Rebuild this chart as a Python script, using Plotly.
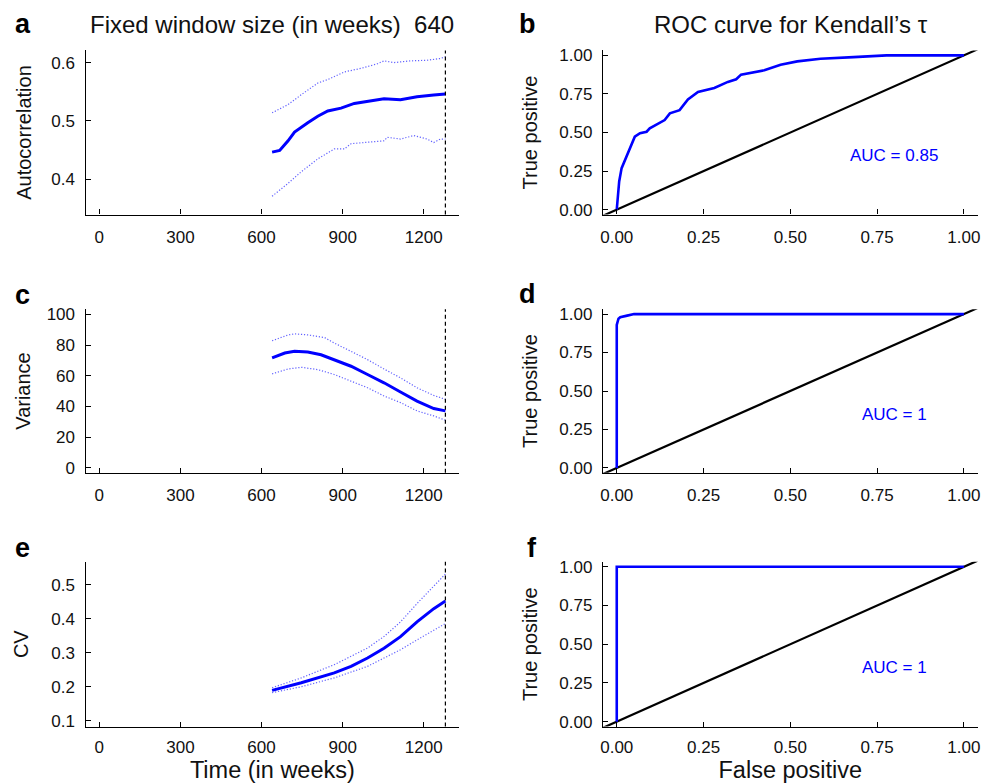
import plotly.graph_objects as go

# ---------------- data ----------------
# Panel a: autocorrelation
ac_mean_t = [639, 667, 698, 722, 771, 808, 845, 894, 943, 992, 1053, 1114, 1175, 1237, 1280]
ac_mean = [0.4466, 0.4494, 0.466, 0.481, 0.497, 0.508, 0.517, 0.522, 0.530, 0.533, 0.538, 0.5365, 0.5416, 0.5444, 0.546]
ac_up_t = [639, 698, 747, 808, 845, 906, 967, 1029, 1053, 1090, 1151, 1212, 1261, 1280]
ac_up = [0.514, 0.528, 0.545, 0.565, 0.571, 0.584, 0.590, 0.598, 0.603, 0.600, 0.603, 0.604, 0.607, 0.610]
ac_lo_t = [639, 698, 747, 808, 869, 906, 931, 992, 1053, 1065, 1114, 1163, 1212, 1237, 1261, 1280]
ac_lo = [0.371, 0.393, 0.413, 0.435, 0.452, 0.452, 0.461, 0.463, 0.466, 0.472, 0.469, 0.475, 0.469, 0.463, 0.469, 0.469]

# Panel c: variance
var_t = [639, 686, 722, 771, 820, 869, 931, 992, 1053, 1114, 1175, 1237, 1280]
var_mean = [71.6, 74.8, 75.9, 75.4, 73.7, 70.5, 66.2, 60.8, 55.4, 49.4, 43.5, 38.6, 37.1]
var_up_t = [639, 698, 722, 771, 833, 869, 931, 992, 1053, 1114, 1175, 1237, 1280]
var_up = [82.8, 86.6, 87.3, 86.6, 84.9, 81.3, 75.9, 70.5, 64.4, 58.6, 52.2, 47.2, 44.6]
var_lo_t = [639, 698, 747, 808, 869, 931, 992, 1053, 1114, 1175, 1237, 1280]
var_lo = [61.2, 64.4, 65.5, 64.0, 60.8, 56.5, 52.2, 46.8, 42.5, 37.1, 33.8, 31.0]

# Panel e: coefficient of variation
cv_t = [639, 747, 869, 931, 992, 1053, 1114, 1175, 1237, 1280]
cv_mean = [0.1893, 0.2117, 0.2408, 0.2602, 0.2845, 0.3136, 0.3476, 0.3913, 0.4301, 0.4524]
cv_up_t = [639, 747, 869, 992, 1053, 1114, 1175, 1237, 1280]
cv_up = [0.197, 0.226, 0.265, 0.314, 0.348, 0.391, 0.445, 0.498, 0.532]
cv_lo_t = [639, 747, 869, 992, 1053, 1114, 1175, 1237, 1280]
cv_lo = [0.1825, 0.200, 0.226, 0.260, 0.2845, 0.309, 0.338, 0.367, 0.386]

window_end = 1280

# ROC curves
roc_b_fp = [0, 0.003, 0.007, 0.014, 0.024, 0.038, 0.052, 0.067, 0.086, 0.095, 0.138, 0.153, 0.181,
            0.205, 0.234, 0.281, 0.320, 0.344, 0.358, 0.425, 0.472, 0.520, 0.587, 0.682, 0.777, 1.0]
roc_b_tp = [0, 0.075, 0.183, 0.269, 0.323, 0.387, 0.473, 0.495, 0.505, 0.527, 0.581, 0.624, 0.645,
            0.714, 0.763, 0.789, 0.828, 0.845, 0.875, 0.903, 0.940, 0.961, 0.978, 0.989, 1.0, 1.0]
roc_d_fp = [0, 0.0, 0.005, 0.01, 0.03, 0.05, 1.0]
roc_d_tp = [0, 0.93, 0.97, 0.98, 0.99, 1.0, 1.0]
roc_f_fp = [0, 0, 1.0]
roc_f_tp = [0, 1.0, 1.0]
auc_labels = ["AUC = 0.85", "AUC = 1", "AUC = 1"]
diag = [-0.1, 1.1]

time_ticks = [0, 300, 600, 900, 1200]
roc_ticks = [0, 0.25, 0.5, 0.75, 1.0]

# ---------------- figure ----------------
FONT = "Liberation Sans, Arial, Helvetica, sans-serif"
BLUE = "#0000ff"
BAND = "rgba(70,70,255,0.85)"
W, H = 996, 784

fig = go.Figure()

def px_x(a, b):
    return [a / W, b / W]

def px_y(top, bot):
    return [1 - bot / H, 1 - top / H]

left_dom = px_x(83, 459)
right_dom = px_x(603.5, 980.7)
rows = [px_y(47, 213), px_y(308.7, 474.3), px_y(564.3, 731)]

def add_band(t, y, ax):
    fig.add_trace(go.Scatter(x=t, y=y, mode="lines", xaxis="x" + ax, yaxis="y" + ax,
                             line=dict(color=BAND, width=1.2, dash="1.2px,1.8px"),
                             showlegend=False, hoverinfo="skip"))

def add_mean(t, y, ax):
    fig.add_trace(go.Scatter(x=t, y=y, mode="lines", xaxis="x" + ax, yaxis="y" + ax,
                             line=dict(color=BLUE, width=3), showlegend=False))

# a
add_band(ac_up_t, ac_up, "")
add_band(ac_lo_t, ac_lo, "")
add_mean(ac_mean_t, ac_mean, "")
# c
add_band(var_up_t, var_up, "3")
add_band(var_lo_t, var_lo, "3")
add_mean(var_t, var_mean, "3")
# e
add_band(cv_up_t, cv_up, "5")
add_band(cv_lo_t, cv_lo, "5")
add_mean(cv_t, cv_mean, "5")

# ROC panels
for ax, fp, tp in [("2", roc_b_fp, roc_b_tp), ("4", roc_d_fp, roc_d_tp), ("6", roc_f_fp, roc_f_tp)]:
    fig.add_trace(go.Scatter(x=diag, y=diag, mode="lines", xaxis="x" + ax, yaxis="y" + ax,
                             line=dict(color="black", width=2.2), showlegend=False, hoverinfo="skip"))
    fig.add_trace(go.Scatter(x=fp, y=tp, mode="lines", xaxis="x" + ax, yaxis="y" + ax,
                             line=dict(color=BLUE, width=2.6), showlegend=False))

tickfont = dict(family=FONT, size=17, color="#111")
titlefont = dict(family=FONT, size=20, color="#111")
bigtitlefont = dict(family=FONT, size=24, color="#111")

def xax(dom, anchor, rng, ticks, fmt=None, title=None, lab_standoff=7):
    d = dict(domain=dom, anchor=anchor, range=rng, tickvals=ticks, showline=True, linecolor="black",
             linewidth=1.2, ticks="inside", ticklen=5, tickwidth=1, tickcolor="black", showgrid=False,
             zeroline=False, tickfont=tickfont, fixedrange=True, ticklabelstandoff=lab_standoff)
    if fmt:
        d["tickformat"] = fmt
    if title:
        d["title"] = dict(text=title, font=dict(family=FONT, size=23.5, color="#111"), standoff=0)
    return d

def yax(dom, anchor, rng, ticks, title, fmt=None, standoff=14):
    d = dict(domain=dom, anchor=anchor, range=rng, tickvals=ticks, showline=True, linecolor="black",
             linewidth=1.2, ticks="inside", ticklen=5, tickwidth=1, tickcolor="black", showgrid=False,
             zeroline=False, tickfont=tickfont, fixedrange=True, ticklabelstandoff=6,
             title=dict(text=title, font=titlefont, standoff=standoff))
    if fmt:
        d["tickformat"] = fmt
    return d

t_rng = [-51.2, 1331.2]
r_rng = [-0.04, 1.04]
ry_rng = [-0.032, 1.032]

fig.update_layout(
    width=W, height=H, margin=dict(l=0, r=0, t=0, b=0),
    plot_bgcolor="white", paper_bgcolor="white", showlegend=False,
    font=dict(family=FONT, color="#111"),
    xaxis=xax(left_dom, "y", t_rng, time_ticks),
    yaxis=yax(rows[0], "x", [0.3396, 0.6208], [0.4, 0.5, 0.6], "Autocorrelation"),
    xaxis2=xax(right_dom, "y2", r_rng, roc_ticks, ".2f"),
    yaxis2=yax(rows[0], "x2", ry_rng, roc_ticks, "True positive", ".2f", standoff=16),
    xaxis3=xax(left_dom, "y3", t_rng, time_ticks),
    yaxis3=yax(rows[1], "x3", [-3.3, 103.4], [0, 20, 40, 60, 80, 100], "Variance", standoff=10),
    xaxis4=xax(right_dom, "y4", r_rng, roc_ticks, ".2f"),
    yaxis4=yax(rows[1], "x4", ry_rng, roc_ticks, "True positive", ".2f", standoff=16),
    xaxis5=xax(left_dom, "y5", t_rng, time_ticks, title="Time (in weeks)", lab_standoff=5),
    yaxis5=yax(rows[2], "x5", [0.0825, 0.568], [0.1, 0.2, 0.3, 0.4, 0.5], "CV", standoff=17),
    xaxis6=xax(right_dom, "y6", r_rng, roc_ticks, ".2f", title="False positive", lab_standoff=5),
    yaxis6=yax(rows[2], "x6", ry_rng, roc_ticks, "True positive", ".2f", standoff=16),
)

# dashed vertical line at the end of the window
for ax in ["", "3", "5"]:
    fig.add_shape(type="line", xref="x" + ax, yref="y" + ax + " domain",
                  x0=window_end, x1=window_end, y0=0, y1=1,
                  line=dict(color="black", width=1.2, dash="4px,3px"))

# AUC labels
for ax, lab in zip(["2", "4", "6"], auc_labels):
    fig.add_annotation(x=0.8, y=0.35, xref="x" + ax, yref="y" + ax, text=lab, showarrow=False,
                       font=dict(family=FONT, size=17, color=BLUE))

# column titles
fig.add_annotation(x=271 / W, y=1 - 21 / H, xref="paper", yref="paper",
                   text="Fixed window size (in weeks) \u00a0640", showarrow=False,
                   font=bigtitlefont, xanchor="center", yanchor="middle")
fig.add_annotation(x=793 / W, y=1 - 21 / H, xref="paper", yref="paper",
                   text="ROC curve for Kendall\u2019s \u03c4", showarrow=False,
                   font=bigtitlefont, xanchor="center", yanchor="middle")

# panel letters
letters = [("a", 20, 20), ("b", 528, 20), ("c", 20, 294), ("d", 528, 293), ("e", 20, 550), ("f", 532, 550)]
for txt, lx, ly in letters:
    fig.add_annotation(x=lx / W, y=1 - ly / H, xref="paper", yref="paper", text="<b>%s</b>" % txt,
                       showarrow=False, font=dict(family=FONT, size=27, color="black"),
                       xanchor="center", yanchor="middle")

fig.write_html("out.html", config={"displayModeBar": False},
               post_script="document.body.style.margin='0';document.documentElement.style.overflow='hidden';")
